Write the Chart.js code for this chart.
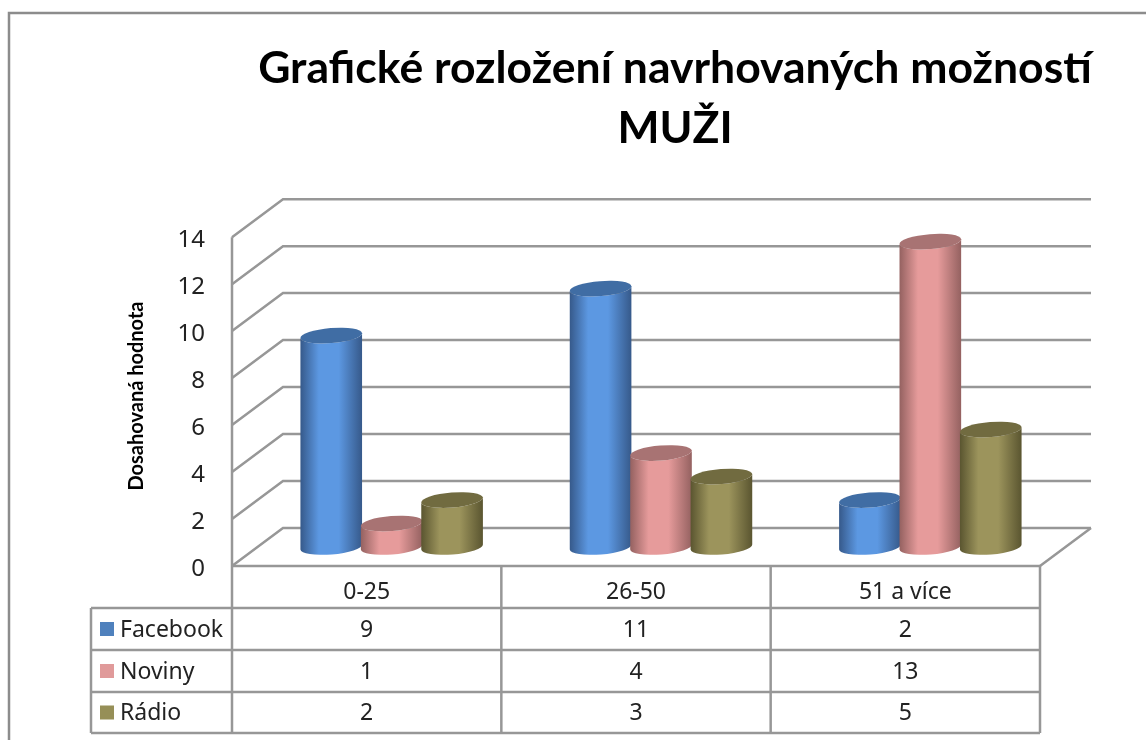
<!DOCTYPE html>
<html>
<head>
<meta charset="utf-8">
<title>Grafické rozložení navrhovaných možností</title>
<script src="https://cdn.jsdelivr.net/npm/chart.js@4"></script>
<style>
    html, body { margin: 0; padding: 0; background: #fff; overflow: hidden; }
    canvas { display: block; filter: blur(0.4px); }
</style>
</head>
<body>
<canvas id="chart" width="1146" height="740"></canvas>
<script>
const categories = ['0-25', '26-50', '51 a více'];
const facebook = [9, 11, 2];
const noviny = [1, 4, 13];
const radio = [2, 3, 5];
const seriesNames = ['Facebook', 'Noviny', 'Rádio'];
const seriesColors = ['#4f81bd', '#e09a9a', '#968f57'];
const titleLines = ['Grafické rozložení navrhovaných možností', 'MUŽI'];
const axisTitle = 'Dosahovaná hodnota';

const TITLE_FONT = 'Lato, "Noto Sans", sans-serif';
const FONT = '"Noto Sans", sans-serif';
const LINE = '#979797';
const TEXT = '#222';

// 3D look: back wall is shifted against the front plane, bars stand halfway
const depthX = 51;
const depthY = 38;
const barShades = [
    { edge: '#36598a', light: '#5c98e2', top: '#406da4' },
    { edge: '#946160', light: '#e69b9b', top: '#a87373' },
    { edge: '#5a5530', light: '#9c945c', top: '#716b40' }
];

const rowLines = [608, 650, 692, 733];
const tableLeft = 91;

function line(ctx, x1, y1, x2, y2) {
    ctx.beginPath();
    ctx.moveTo(x1, y1);
    ctx.lineTo(x2, y2);
    ctx.stroke();
}

function drawCylinder(ctx, bar, shade) {
    const cx = bar.x + depthX / 2 - 0.5;
    const top = bar.y - depthY / 2;
    const bottom = bar.base - depthY / 2;
    const rx = bar.width / 2 + 0.7;
    const ry = 7.5;
    const rot = -0.08;

    const grad = ctx.createLinearGradient(cx - rx, 0, cx + rx, 0);
    grad.addColorStop(0, shade.edge);
    grad.addColorStop(0.3, shade.light);
    grad.addColorStop(0.62, shade.light);
    grad.addColorStop(1, shade.edge);

    ctx.beginPath();
    ctx.ellipse(cx, bottom, rx, ry, rot, 0, Math.PI);
    ctx.ellipse(cx, top, rx, ry, rot, Math.PI, 0, true);
    ctx.closePath();
    ctx.fillStyle = grad;
    ctx.fill();

    ctx.beginPath();
    ctx.ellipse(cx, top, rx, ry, rot, 0, Math.PI * 2);
    ctx.fillStyle = shade.top;
    ctx.fill();
}

const view3d = {
    id: 'view3d',
    afterLayout(chart) {
        // title is centred over the plot with its depth, not over the canvas
        chart.titleBlock.left = 258;
        chart.titleBlock.right = 1092;
    },
    beforeDraw(chart) {
        const ctx = chart.ctx;
        ctx.save();
        ctx.strokeStyle = '#8c8c8c';
        ctx.lineWidth = 2.5;
        ctx.beginPath();
        ctx.moveTo(9, 740);
        ctx.lineTo(9, 13);
        ctx.lineTo(1146, 13);
        ctx.stroke();
        ctx.restore();
    },
    beforeDatasetsDraw(chart) {
        const ctx = chart.ctx;
        const y = chart.scales.y;
        const area = chart.chartArea;
        ctx.save();
        ctx.strokeStyle = LINE;
        ctx.lineWidth = 2.5;

        // walls
        y.ticks.forEach(t => {
            const py = y.getPixelForValue(t.value);
            ctx.beginPath();
            ctx.moveTo(area.left, py);
            ctx.lineTo(area.left + depthX, py - depthY);
            ctx.lineTo(area.right + depthX, py - depthY);
            ctx.stroke();
        });
        // floor edge
        line(ctx, area.right, area.bottom, area.right + depthX, area.bottom - depthY);

        // bars, left to right so the later one covers the earlier one
        chart.data.datasets.forEach((ds, i) => {
            chart.getDatasetMeta(i).data.forEach(bar => drawCylinder(ctx, bar, barShades[i]));
        });
        ctx.restore();
    },
    beforeDatasetDraw() {
        return false;
    },
    afterDraw(chart) {
        const ctx = chart.ctx;
        const x = chart.scales.x;
        const area = chart.chartArea;
        const tableBottom = rowLines[rowLines.length - 1];
        const band = (area.right - area.left) / categories.length;

        ctx.save();
        ctx.strokeStyle = LINE;
        ctx.lineWidth = 2.5;
        // axis and table grid
        line(ctx, area.left, area.top, area.left, tableBottom);
        line(ctx, area.left, area.bottom, area.right, area.bottom);
        categories.forEach((c, i) => {
            const ex = x.getPixelForValue(i) + band / 2;
            line(ctx, ex, area.bottom, ex, tableBottom);
        });
        rowLines.forEach(ry => line(ctx, tableLeft, ry, area.right, ry));
        line(ctx, tableLeft, rowLines[0], tableLeft, tableBottom);

        ctx.font = '23px ' + FONT;
        ctx.textBaseline = 'middle';
        chart.data.datasets.forEach((ds, r) => {
            const mid = (rowLines[r] + rowLines[r + 1]) / 2;
            ctx.fillStyle = seriesColors[r];
            ctx.fillRect(100, mid - 7, 14, 14);
            ctx.fillStyle = TEXT;
            ctx.textAlign = 'left';
            ctx.fillText(seriesNames[r], 120, mid + 1);
            ctx.textAlign = 'center';
            ds.data.forEach((v, c) => ctx.fillText(String(v), x.getPixelForValue(c), mid + 1));
        });

        // axis title sits a little above the middle of the front plane
        ctx.translate(137, 396);
        ctx.rotate(-Math.PI / 2);
        ctx.font = 'bold 20px ' + TITLE_FONT;
        ctx.fillStyle = '#000';
        ctx.fillText(axisTitle, 0, 0);
        ctx.restore();
    }
};

new Chart(document.getElementById('chart'), {
    type: 'bar',
    data: {
        labels: categories,
        datasets: [
            { label: seriesNames[0], data: facebook, backgroundColor: seriesColors[0] },
            { label: seriesNames[1], data: noviny, backgroundColor: seriesColors[1] },
            { label: seriesNames[2], data: radio, backgroundColor: seriesColors[2] }
        ]
    },
    plugins: [view3d],
    options: {
        responsive: false,
        animation: false,
        categoryPercentage: 0.673,
        barPercentage: 1,
        layout: { padding: { left: 0, right: 106, top: 0, bottom: 0 } },
        plugins: {
            legend: { display: false },
            tooltip: { enabled: false },
            title: {
                display: true,
                text: titleLines,
                color: '#000',
                font: { family: TITLE_FONT, size: 44.5, weight: 'bold', lineHeight: 1.35 },
                padding: { top: 39, bottom: 78 }
            }
        },
        scales: {
            x: {
                grid: { display: false, drawTicks: false },
                border: { display: false },
                ticks: { color: TEXT, font: { family: FONT, size: 23 }, padding: 13, autoSkip: false, maxRotation: 0 },
                afterFit: s => { s.height = 174; }
            },
            y: {
                min: 0,
                max: 14,
                grid: { display: false, drawTicks: false },
                border: { display: false },
                ticks: { stepSize: 2, color: TEXT, font: { family: FONT, size: 24 }, padding: 27, labelOffset: 3 },
                afterFit: s => { s.width = 232; }
            }
        }
    }
});
</script>
</body>
</html>
